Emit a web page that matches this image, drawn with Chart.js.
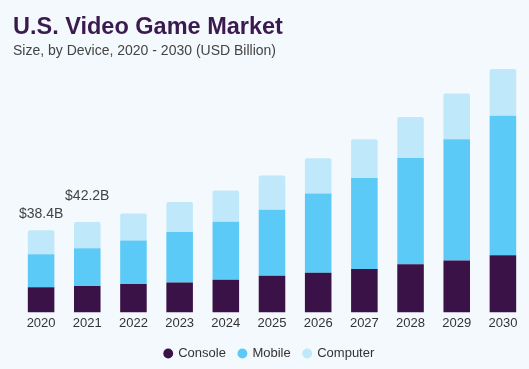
<!DOCTYPE html>
<html>
<head>
<meta charset="utf-8">
<script src="https://cdn.jsdelivr.net/npm/chart.js@4.4.1/dist/chart.umd.min.js"></script>
<style>
  html, body { margin: 0; padding: 0; background: #f4f9fd; }
  #wrap { width: 529px; height: 369px; }
</style>
</head>
<body>
<div id="wrap"><canvas id="marketChart" width="529" height="369"></canvas></div>
<script>
// U.S. video game market size by device, USD billion
const years = ['2020', '2021', '2022', '2023', '2024', '2025', '2026', '2027', '2028', '2029', '2030'];
const consoleValues = [11.7, 12.3, 13.3, 14.0, 15.2, 17.1, 18.5, 20.3, 22.5, 24.2, 26.7];
const mobileValues = [15.5, 17.7, 20.3, 23.6, 27.1, 30.8, 37.0, 42.5, 49.6, 56.7, 65.1];
const computerValues = [11.2, 12.2, 12.6, 14.0, 14.6, 16.0, 16.5, 18.1, 19.2, 21.3, 21.9];
const totalLabels = ['$38.4B', '$42.2B'];

const FONT = "'Liberation Sans', Arial, sans-serif";

// writes the total above the first bars
const totalsPlugin = {
    id: 'totals',
    afterDatasetsDraw(chart) {
        const meta = chart.getDatasetMeta(2);
        const ctx = chart.ctx;
        ctx.save();
        ctx.font = '14px ' + FONT;
        ctx.fillStyle = '#444444';
        ctx.textAlign = 'center';
        ctx.textBaseline = 'middle';
        totalLabels.forEach((txt, i) => {
            const bar = meta.data[i];
            ctx.fillText(txt, bar.x, bar.y - 16 - i * 10);
        });
        ctx.restore();
    }
};

new Chart(document.getElementById('marketChart').getContext('2d'), {
    type: 'bar',
    data: {
        labels: years,
        datasets: [
            { label: 'Console', data: consoleValues, backgroundColor: '#3a1247' },
            { label: 'Mobile', data: mobileValues, backgroundColor: '#5ccaf6' },
            {
                label: 'Computer', data: computerValues, backgroundColor: '#bfe9fa',
                borderRadius: { topLeft: 2, topRight: 2 }, borderSkipped: 'bottom'
            }
        ]
    },
    options: {
        responsive: false,
        animation: false,
        layout: { padding: { left: 13, right: 3, top: 9, bottom: -1 } },
        datasets: { bar: { categoryPercentage: 1, barPercentage: 0.575 } },
        plugins: {
            title: {
                display: true, text: 'U.S. Video Game Market', align: 'start',
                color: '#3b1a4f', font: { family: FONT, size: 23.5, weight: 'bold' },
                padding: { top: 4, bottom: 2 }
            },
            subtitle: {
                display: true, text: 'Size, by Device, 2020 - 2030 (USD Billion)', align: 'start',
                color: '#444444', font: { family: FONT, size: 14 },
                padding: { top: 0, bottom: 4 }
            },
            legend: {
                position: 'bottom',
                labels: {
                    usePointStyle: true, pointStyle: 'circle', boxWidth: 7, boxHeight: 7,
                    color: '#333333', font: { family: FONT, size: 13 }, padding: 13
                }
            },
            tooltip: { enabled: false }
        },
        scales: {
            x: {
                stacked: true,
                grid: { display: false, drawTicks: false },
                border: { display: false },
                ticks: { color: '#333333', font: { family: FONT, size: 13 }, padding: 3 }
            },
            y: {
                stacked: true, min: 0, max: 116,
                grid: { display: false, drawTicks: false },
                border: { display: false },
                ticks: { display: false },
                afterFit(scale) { scale.width = 5; }
            }
        }
    },
    plugins: [totalsPlugin]
});
</script>
</body>
</html>
